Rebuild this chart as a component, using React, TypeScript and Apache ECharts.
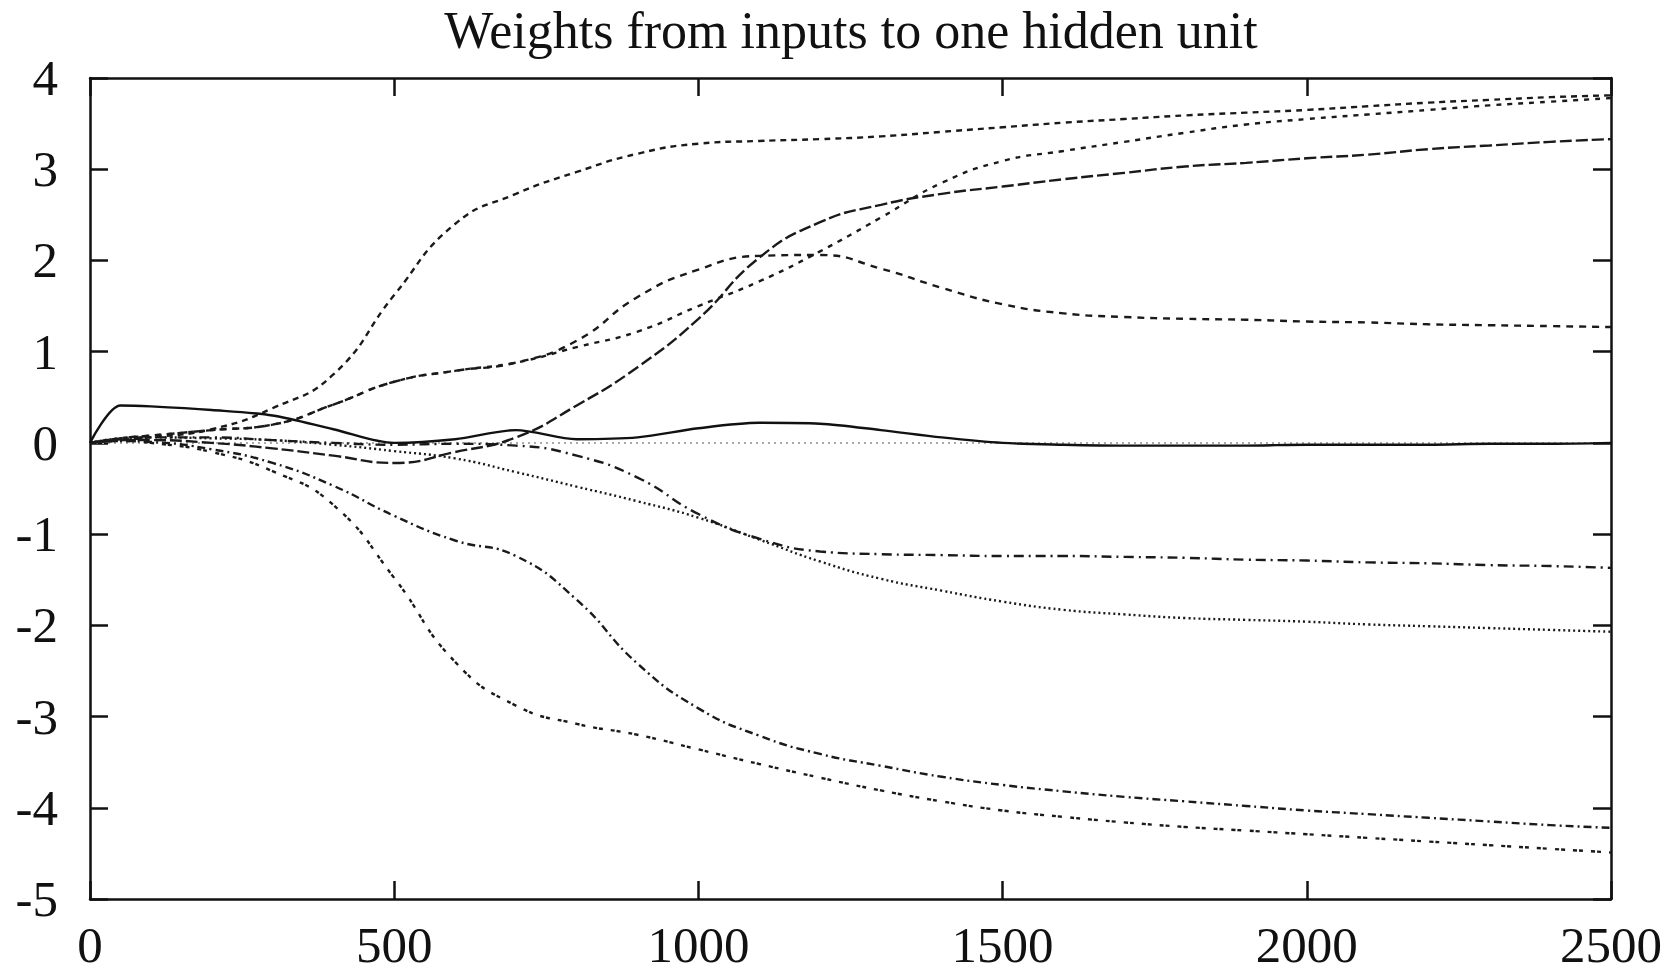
import React, { useEffect, useRef } from "react";
import * as echarts from "echarts";

const TITLE = "Weights from inputs to one hidden unit";

// Training steps (x) shared by every curve
const steps = [0, 50, 100, 200, 300, 400, 500, 600, 700, 800, 900, 1000, 1100, 1200, 1300, 1400, 1500, 1600, 1700, 1800, 1900, 2000, 2100, 2200, 2300, 2400, 2500];

// Weight values per input
const wSolid = [0, 0.41, 0.40, 0.36, 0.30, 0.15, 0.0, 0.04, 0.14, 0.04, 0.06, 0.16, 0.22, 0.21, 0.14, 0.06, 0.0, -0.02, -0.03, -0.03, -0.03, -0.02, -0.02, -0.02, -0.01, -0.01, 0.0];
const wZero = [0, 0, 0, 0, 0, 0, 0, 0, 0, 0, 0, 0, 0, 0, 0, 0, 0, 0, 0, 0, 0, 0, 0, 0, 0, 0, 0];
const wTopFast = [0, 0.03, 0.06, 0.15, 0.38, 0.75, 1.62, 2.4, 2.73, 2.97, 3.17, 3.28, 3.31, 3.33, 3.36, 3.41, 3.46, 3.51, 3.55, 3.59, 3.62, 3.65, 3.69, 3.73, 3.76, 3.79, 3.81];
const wTopLate = [0, 0.05, 0.08, 0.14, 0.2, 0.42, 0.67, 0.79, 0.88, 1.05, 1.22, 1.5, 1.77, 2.1, 2.47, 2.85, 3.09, 3.2, 3.3, 3.4, 3.49, 3.55, 3.6, 3.65, 3.7, 3.74, 3.78];
const wLongDash = [0, 0.03, 0.03, 0.0, -0.06, -0.14, -0.22, -0.1, 0.06, 0.41, 0.83, 1.36, 2.03, 2.42, 2.61, 2.73, 2.81, 2.89, 2.96, 3.03, 3.07, 3.12, 3.16, 3.22, 3.26, 3.3, 3.33];
const wHump = [0, 0.05, 0.08, 0.14, 0.2, 0.42, 0.67, 0.79, 0.88, 1.12, 1.6, 1.9, 2.05, 2.06, 1.91, 1.7, 1.52, 1.42, 1.38, 1.36, 1.35, 1.33, 1.32, 1.3, 1.29, 1.28, 1.27];
const wDashDotA = [0, 0.04, 0.06, 0.06, 0.03, 0.0, -0.02, -0.01, -0.03, -0.14, -0.38, -0.78, -1.05, -1.19, -1.22, -1.23, -1.24, -1.24, -1.25, -1.26, -1.28, -1.29, -1.31, -1.32, -1.34, -1.35, -1.37];
const wDotted = [0, 0.05, 0.06, 0.05, 0.03, -0.02, -0.09, -0.17, -0.32, -0.48, -0.64, -0.82, -1.06, -1.3, -1.49, -1.62, -1.74, -1.83, -1.88, -1.92, -1.94, -1.96, -1.99, -2.01, -2.03, -2.05, -2.07];
const wDashDotB = [0, 0.02, 0.01, -0.07, -0.22, -0.47, -0.8, -1.07, -1.24, -1.72, -2.42, -2.91, -3.21, -3.41, -3.54, -3.66, -3.75, -3.82, -3.88, -3.93, -3.98, -4.03, -4.07, -4.11, -4.15, -4.19, -4.22];
const wBottom = [0, 0.02, 0.0, -0.1, -0.31, -0.68, -1.48, -2.4, -2.88, -3.08, -3.2, -3.36, -3.52, -3.67, -3.81, -3.93, -4.03, -4.1, -4.16, -4.21, -4.25, -4.29, -4.33, -4.37, -4.41, -4.45, -4.49];

const xTicks = { min: 0, max: 2500, interval: 500 };
const yTicks = { min: -5, max: 4, interval: 1 };

const FONT = "Liberation Serif";
const INK = "#111";

export default function App() {
  const ref = useRef<HTMLDivElement>(null);

  useEffect(() => {
    const chart = echarts.init(ref.current as HTMLDivElement, null, { renderer: "svg" });

    const mk = (name: string, ys: number[], type: any, color = "#1a1a1a", width = 2.4, smooth: number = 0.5) => ({
      name,
      type: "line",
      data: steps.map((x, i) => [x, ys[i]]),
      showSymbol: false,
      symbol: "none",
      smooth,
      lineStyle: { color, width, type },
      silent: true,
    });

    const axisLine = { show: true, onZero: false, lineStyle: { color: INK, width: 2.5 } };
    const axisTick = { show: true, inside: true, length: 18, lineStyle: { color: INK, width: 2.5 } };
    const label = { fontSize: 51, lineHeight: 51, fontFamily: FONT, color: INK, formatter: (v: number) => String(v) };

    chart.setOption({
      animation: false,
      backgroundColor: "#fff",
      graphic: [
        {
          type: "text",
          x: 851,
          y: 30,
          style: {
            text: TITLE,
            fontSize: 52,
            fontFamily: FONT,
            fill: INK,
            textAlign: "center",
            textVerticalAlign: "middle",
          },
        },
      ],
      grid: { left: 90, right: 59, top: 78, bottom: 74, outerBoundsMode: "none", containLabel: false },
      xAxis: [
        {
          type: "value", position: "bottom", ...xTicks,
          axisLine, axisTick, splitLine: { show: false },
          axisLabel: { ...label, margin: 20 },
        },
        {
          type: "value", position: "top", ...xTicks,
          axisLine, axisTick, splitLine: { show: false },
          axisLabel: { show: false },
        },
      ],
      yAxis: [
        {
          type: "value", position: "left", ...yTicks,
          axisLine, axisTick, splitLine: { show: false },
          axisLabel: { ...label, margin: 32 },
        },
        {
          type: "value", position: "right", ...yTicks,
          axisLine, axisTick, splitLine: { show: false },
          axisLabel: { show: false },
        },
      ],
      series: [
        mk("zero", wZero, [2, 4], "#aaa", 2, 0),
        mk("topFast", wTopFast, [6, 5]),
        mk("topLate", wTopLate, [5, 6]),
        mk("longDash", wLongDash, [12, 4]),
        mk("hump", wHump, [7, 6]),
        mk("dashDotA", wDashDotA, [10, 5, 2, 5]),
        mk("dotted", wDotted, [2, 3]),
        mk("dashDotB", wDashDotB, [8, 4, 2, 4]),
        mk("bottom", wBottom, [4, 2, 4, 8]),
        mk("solid", wSolid, "solid", "#111", 2.4, 0.3),
      ],
    });

    return () => chart.dispose();
  }, []);

  return (
    <div
      ref={ref}
      style={{ position: "fixed", left: 0, top: 0, width: 1670, height: 973, background: "#fff" }}
    />
  );
}
